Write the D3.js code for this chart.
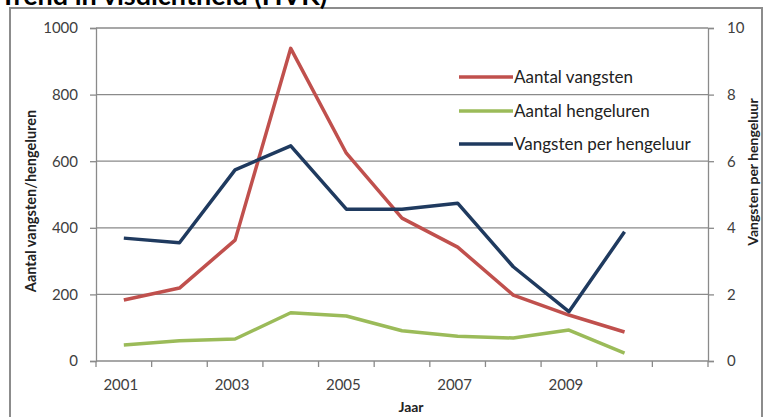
<!DOCTYPE html>
<html><head><meta charset="utf-8">
<script src="https://cdn.jsdelivr.net/npm/d3@7"></script>
<style>html,body{margin:0;padding:0;background:#fff;}svg{display:block;}</style>
</head><body>
<svg id="c" width="763" height="417"></svg>
<script>
const years = [2001,2002,2003,2004,2005,2006,2007,2008,2009,2010,2011];
const yearLabels = ["2001","2003","2005","2007","2009"];
const vangsten = [183,219,363,939,624,429,342,198,138,87];
const hengeluren = [48,61,66,145,135,91,74,69,93,24];
const perUur = [3.69,3.55,5.74,6.46,4.56,4.56,4.74,2.83,1.48,3.88];
const leftTicks = [0,200,400,600,800,1000];
const rightTicks = [0,2,4,6,8,10];
const seriesNames = ["Aantal vangsten","Aantal hengeluren","Vangsten per hengeluur"];
const colors = ["#C0504D","#9BBB59","#1F3A5F"];

const svg = d3.select("#c");
const font = "Lato, 'Open Sans', sans-serif";
const L = 96, R = 708, T = 28, B = 361;

// outer chart border
svg.append("rect").attr("x",10).attr("y",8).attr("width",752).attr("height",430)
  .attr("fill","#fff").attr("stroke","#8c8c8c").attr("stroke-width",2);

// title (partially cut off at top, as in the reference)
svg.append("text").attr("x",0).attr("y",5).attr("font-family",font).attr("font-weight","bold")
  .attr("font-size",27).attr("fill","#000").text("Trend in visdichtheid (HVK)");

const x = d3.scaleBand().domain(years).range([L,R]).padding(0);
const yL = d3.scaleLinear().domain([0,1000]).range([B,T]);
const yR = d3.scaleLinear().domain([0,10]).range([B,T]);

// gridlines
svg.append("g").selectAll("line").data(leftTicks.filter(d=>d>0)).join("line")
  .attr("x1",L).attr("x2",R).attr("y1",d=>yL(d)).attr("y2",d=>yL(d))
  .attr("stroke","#8a8a8a").attr("stroke-width",1.3);

// left axis
const gl = svg.append("g").attr("transform",`translate(${L},0)`)
  .call(d3.axisLeft(yL).tickValues(leftTicks).tickFormat(d3.format("d")).tickSize(6).tickPadding(12));
// right axis
const gr = svg.append("g").attr("transform",`translate(${R},0)`)
  .call(d3.axisRight(yR).tickValues(rightTicks).tickFormat(d3.format("d")).tickSize(6).tickPadding(13));
// bottom axis: ticks at band boundaries
const bounds = years.map(y=>x(y)).concat([R]);
const gb = svg.append("g");
gb.append("line").attr("x1",L).attr("x2",R).attr("y1",B).attr("y2",B).attr("stroke","#8a8a8a").attr("stroke-width",1.3);
gb.selectAll("line.t").data(bounds).join("line").attr("class","t")
  .attr("x1",d=>d).attr("x2",d=>d).attr("y1",B).attr("y2",B+6).attr("stroke","#8a8a8a").attr("stroke-width",1.3);
gb.selectAll("text").data(yearLabels).join("text")
  .attr("x",d=>x(+d)+x.bandwidth()/2-3).attr("y",390).attr("text-anchor","middle")
  .attr("font-family",font).attr("font-size",15).attr("fill","#404040").text(d=>d);

[gl,gr].forEach(g=>{
  g.select(".domain").attr("stroke","#8a8a8a").attr("stroke-width",1.3);
  g.selectAll(".tick line").attr("stroke","#8a8a8a").attr("stroke-width",1.3);
  g.selectAll(".tick text").attr("font-family",font).attr("font-size",15).attr("fill","#404040");
});

// axis titles
svg.append("text").attr("transform","translate(36,201) rotate(-90)").attr("text-anchor","middle")
  .attr("font-family",font).attr("font-weight","bold").attr("font-size",14.5).attr("fill","#222")
  .text("Aantal vangsten/hengeluren");
svg.append("text").attr("transform","translate(758,172) rotate(-90)").attr("text-anchor","middle")
  .attr("font-family",font).attr("font-weight","bold").attr("font-size",14).attr("fill","#222")
  .text("Vangsten per hengeluur");
svg.append("text").attr("x",411).attr("y",412).attr("text-anchor","middle")
  .attr("font-family",font).attr("font-weight","bold").attr("font-size",14).attr("fill","#222")
  .text("Jaar");

// lines
const cx = (i)=>x(years[i])+x.bandwidth()/2;
const lineL = d3.line().x((d,i)=>cx(i)).y(d=>yL(d));
const lineR = d3.line().x((d,i)=>cx(i)).y(d=>yR(d));
svg.append("path").datum(vangsten).attr("d",lineL).attr("fill","none").attr("stroke",colors[0]).attr("stroke-width",3.5).attr("stroke-linejoin","round");
svg.append("path").datum(hengeluren).attr("d",lineL).attr("fill","none").attr("stroke",colors[1]).attr("stroke-width",3.5).attr("stroke-linejoin","round");
svg.append("path").datum(perUur).attr("d",lineR).attr("fill","none").attr("stroke",colors[2]).attr("stroke-width",3.5).attr("stroke-linejoin","round");

// legend
const legY = [77,111,144];
const lg = svg.append("g");
seriesNames.forEach((n,i)=>{
  lg.append("rect").attr("x",455).attr("y",legY[i]-12).attr("width",250).attr("height",26).attr("fill","#fff");
});
seriesNames.forEach((n,i)=>{
  lg.append("line").attr("x1",459).attr("x2",513).attr("y1",legY[i]).attr("y2",legY[i])
    .attr("stroke",colors[i]).attr("stroke-width",3.5);
  lg.append("text").attr("x",514).attr("y",legY[i]+5.5).attr("font-family",font).attr("font-size",17)
    .attr("fill","#222").text(n);
});
</script>
</body></html>
